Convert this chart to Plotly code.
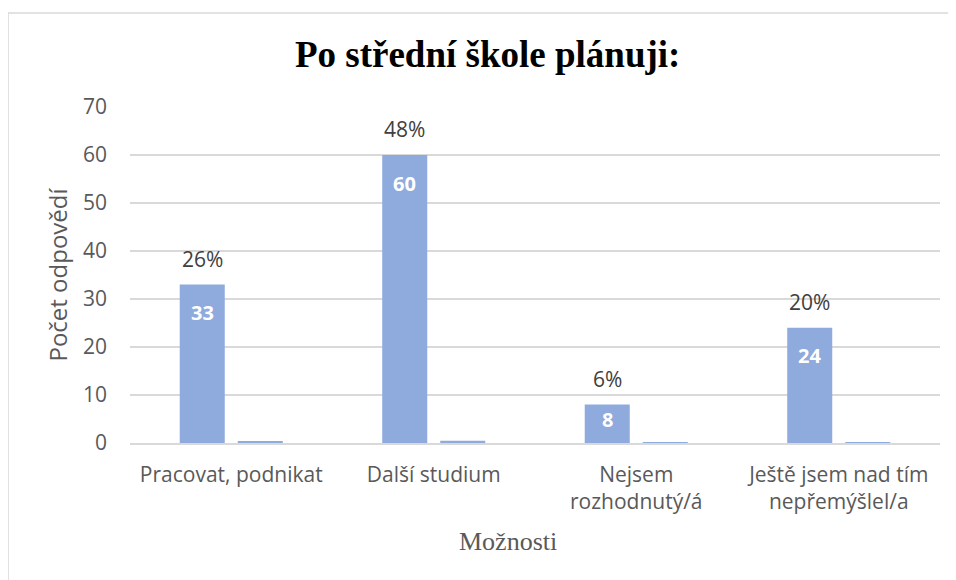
import plotly.graph_objects as go

categories = ["Pracovat, podnikat", "Další studium", "Nejsem<br>rozhodnutý/á", "Ještě jsem nad tím<br>nepřemýšlel/a"]
counts = [33, 60, 8, 24]
shares = [0.26, 0.48, 0.06, 0.20]

BAR = "#8FAADC"
GREY = "#595959"
SANS = "Open Sans, Noto Sans"
PX_PER_UNIT = 336 / 70  # výška grafu / rozsah osy

fig = go.Figure()
fig.add_trace(go.Bar(x=categories, y=counts, name="Počet", marker=dict(color=BAR, line=dict(width=0))))
# druhá řada (podíly) leží na stejné ose, takže je skoro neviditelná
fig.add_trace(go.Bar(x=categories, y=shares, name="Podíl", marker=dict(color=BAR, line=dict(width=0))))

for cat, v, s in zip(categories, counts, shares):
    # počet uvnitř sloupce, u nízkých sloupců blíž k vršku
    drop = min(28, v * PX_PER_UNIT * 0.4)
    fig.add_annotation(x=cat, y=v, text=f"<b>{v}</b>", showarrow=False,
                       xshift=-29, yshift=-drop, yanchor="middle",
                       font=dict(family=SANS, size=20, color="white"))
    # procenta nad sloupcem
    fig.add_annotation(x=cat, y=v, text=f"{s:.0%}", showarrow=False,
                       xshift=-29, yshift=26, yanchor="middle",
                       font=dict(family=SANS, size=21, color="#404040"))

fig.add_annotation(text="Možnosti", xref="paper", yref="paper", x=0.4667, y=-0.2946,
                   xanchor="center", yanchor="middle", showarrow=False,
                   font=dict(family="Liberation Serif", size=26, color=GREY))

fig.update_layout(
    width=948, height=572,
    paper_bgcolor="white", plot_bgcolor="white",
    margin=dict(l=122, r=16, t=99, b=137),
    title=dict(text="<b>Po střední škole plánuji:</b>", x=0.506, xanchor="center", y=0.92, yanchor="middle",
               font=dict(family="Liberation Serif", size=37, color="black")),
    barmode="group", bargap=0.427, bargroupgap=0.224,
    showlegend=False,
    xaxis=dict(
        tickfont=dict(family=SANS, size=21, color=GREY),
        showline=True, linecolor="#D9D9D9", linewidth=1.5, ticks="", ticklabelstandoff=12,
    ),
    yaxis=dict(
        title=dict(text="Počet odpovědí", font=dict(family=SANS, size=24, color=GREY), standoff=8),
        range=[0, 70], dtick=10,
        tickfont=dict(family=SANS, size=21, color=GREY),
        gridcolor="#D9D9D9", gridwidth=1.5, zeroline=False, ticks="", ticklabelstandoff=22,
    ),
    shapes=[dict(type="rect", xref="paper", yref="paper", x0=-0.1506, x1=1.2, y0=-0.6, y1=1.2798,
                 line=dict(color="#D9D9D9", width=1.5), fillcolor="rgba(0,0,0,0)")],
)

fig.write_html("out.html")
